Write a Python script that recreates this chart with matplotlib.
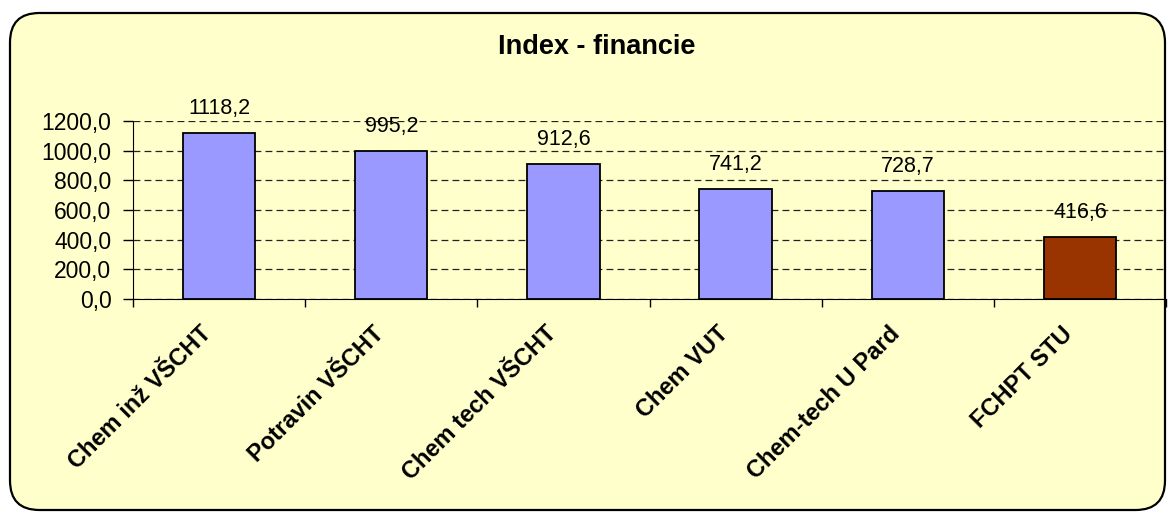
import matplotlib
matplotlib.use("Agg")
import matplotlib.pyplot as plt
from matplotlib.patches import FancyBboxPatch

categories = ["Chem inž VŠCHT", "Potravin VŠCHT", "Chem tech VŠCHT", "Chem VUT", "Chem-tech U Pard", "FCHPT STU"]
values = [1118.2, 995.2, 912.6, 741.2, 728.7, 416.6]
value_labels = ["1118,2", "995,2", "912,6", "741,2", "728,7", "416,6"]
yticks = [0, 200, 400, 600, 800, 1000, 1200]
ytick_labels = ["0,0", "200,0", "400,0", "600,0", "800,0", "1000,0", "1200,0"]
colors = ["#9999FF"] * 5 + ["#993300"]
title = "Index - financie"

plt.rcParams['font.family'] = ['Liberation Sans', 'DejaVu Sans']

W, H = 1176, 513
fig = plt.figure(figsize=(W / 100, H / 100), dpi=100)
fig.patch.set_facecolor("white")

box = FancyBboxPatch((10 / W, 3 / H), 1155 / W, 497 / H,
                     boxstyle="round,pad=0,rounding_size=0.025",
                     transform=fig.transFigure, facecolor="#FFFFCC",
                     edgecolor="black", linewidth=1.6,
                     mutation_aspect=W / H, zorder=-5)
fig.patches.append(box)

ax_left, ax_right = 133, 1166
ax_top, ax_bottom = 121, 299
ax = fig.add_axes([ax_left / W, 1 - ax_bottom / H, (ax_right - ax_left) / W, (ax_bottom - ax_top) / H])
ax.set_facecolor("none")
ax.set_zorder(2)

x = range(len(categories))
ax.bar(x, values, width=0.42, color=colors, edgecolor="black", linewidth=1.3, zorder=3)
ax.set_xlim(-0.5, len(categories) - 0.5)
ax.set_ylim(0, 1200)

ax.set_yticks(yticks)
ax.set_yticklabels(ytick_labels, fontsize=16.5)
ax.yaxis.grid(True, linestyle=(0, (5.5, 3.3)), color="#222222", linewidth=0.9, zorder=0)

ax.set_xticks([i - 0.5 for i in range(len(categories) + 1)])
ax.set_xticklabels([])
ax.tick_params(axis="x", direction="out", length=6, color="black", width=1)
ax.tick_params(axis="y", direction="out", length=7.5, color="black", width=1, pad=8)

for i, (v, lab) in enumerate(zip(values, value_labels)):
    ax.annotate(lab, xy=(i, v), xytext=(0, 19), textcoords="offset pixels",
                ha="center", va="baseline", fontsize=15.5, zorder=4)

for i, c in enumerate(categories):
    ax.annotate(c, xy=(i, 0), xycoords=("data", "axes fraction"),
                xytext=(-19, -23), textcoords="offset pixels",
                rotation=45, ha="right", va="top", rotation_mode="anchor",
                fontsize=17, fontweight="bold")

for side in ["top", "right"]:
    ax.spines[side].set_visible(False)
ax.spines["left"].set_color("black")
ax.spines["bottom"].set_color("black")

fig.text(597 / W, 1 - 54 / H, title,
         ha="center", va="baseline", fontsize=19.5, fontweight="bold")

fig.savefig("out.png", dpi=100)
